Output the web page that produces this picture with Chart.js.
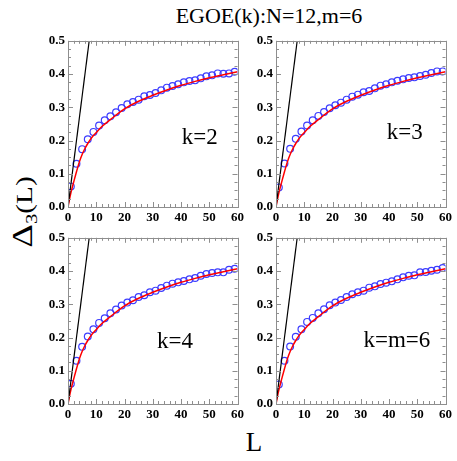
<!DOCTYPE html>
<html>
<head>
<meta charset="utf-8">
<script src="https://cdn.jsdelivr.net/npm/chart.js@4/dist/chart.umd.min.js"></script>
<style>
  html, body { margin: 0; padding: 0; background: #fff; }
  body { width: 457px; height: 461px; position: relative; overflow: hidden; font-family: "Liberation Serif", Tinos, "Times New Roman", Times, "Noto Serif", "DejaVu Serif", FreeSerif, serif; }
  .panel { position: absolute; width: 219px; height: 199px; }
  #title { position: absolute; left: 269px; top: 5px; transform: translateX(-50%); font-size: 22px; line-height: 1; white-space: nowrap; }
  #xlab { position: absolute; left: 254px; top: 429px; transform: translateX(-50%); font-size: 27px; line-height: 1; }
  #ylab { position: absolute; left: 22px; top: 212px; transform: translate(-50%, -50%) rotate(-90deg) scale(1.22, 1); font-size: 24px; line-height: 1; white-space: nowrap; }
  #ylab .d { font-size: 30px; }
  #ylab .s { font-size: 17px; position: relative; top: 5px; }
</style>
</head>
<body>
<div id="title">EGOE(k):N=12,m=6</div>
<div id="ylab"><span class="d">Δ</span><span class="s">3</span>(L)</div>
<div id="xlab">L</div>
<div class="panel" style="left:28px; top:30px;"><canvas id="c1"></canvas></div>
<div class="panel" style="left:236px; top:30px;"><canvas id="c2"></canvas></div>
<div class="panel" style="left:28px; top:227px;"><canvas id="c3"></canvas></div>
<div class="panel" style="left:236px; top:227px;"><canvas id="c4"></canvas></div>
<script>
// L values of the circles (odd L)
const circleL = [1, 3, 5, 7, 9, 11, 13, 15, 17, 19, 21, 23, 25, 27, 29, 31, 33, 35, 37, 39, 41, 43, 45, 47, 49, 51, 53, 55, 57, 59];

// EGOE data
const k2 = [0.062, 0.130, 0.174, 0.204, 0.226, 0.245, 0.261, 0.273, 0.285, 0.298, 0.309, 0.316, 0.323, 0.333, 0.337, 0.343, 0.351, 0.359, 0.364, 0.369, 0.375, 0.379, 0.381, 0.387, 0.393, 0.396, 0.402, 0.401, 0.402, 0.407];
const k3 = [0.059, 0.131, 0.175, 0.205, 0.227, 0.245, 0.261, 0.274, 0.286, 0.297, 0.306, 0.314, 0.323, 0.332, 0.338, 0.345, 0.349, 0.357, 0.365, 0.369, 0.375, 0.380, 0.384, 0.388, 0.390, 0.394, 0.398, 0.403, 0.408, 0.408];
const k4 = [0.061, 0.130, 0.172, 0.203, 0.225, 0.244, 0.258, 0.273, 0.284, 0.296, 0.305, 0.312, 0.322, 0.327, 0.336, 0.341, 0.349, 0.356, 0.362, 0.366, 0.370, 0.375, 0.379, 0.386, 0.391, 0.394, 0.396, 0.396, 0.404, 0.407];
const k6 = [0.059, 0.130, 0.173, 0.202, 0.225, 0.247, 0.259, 0.273, 0.285, 0.297, 0.305, 0.313, 0.322, 0.330, 0.336, 0.341, 0.350, 0.354, 0.361, 0.365, 0.369, 0.375, 0.381, 0.386, 0.387, 0.396, 0.397, 0.401, 0.404, 0.409];

// GOE curve (red)
const goeL = [0, 0.5, 1, 2, 3, 4, 5, 6, 7, 8, 9, 10, 12, 15, 20, 25, 30, 35, 40, 45, 50, 55, 60];
const goeV = [0, 0.022, 0.042, 0.075, 0.106, 0.135, 0.158, 0.176, 0.191, 0.204, 0.215, 0.224, 0.242, 0.263, 0.295, 0.318, 0.336, 0.352, 0.366, 0.378, 0.389, 0.398, 0.407];

// Poisson line (black), L/15
const poiL = [0, 7.5];
const poiV = [0, 0.5];

const panels = [
    { id: 'c1', data: k2, label: 'k=2', at: [46.6, 0.209] },
    { id: 'c2', data: k3, label: 'k=3', at: [45.6, 0.224] },
    { id: 'c3', data: k4, label: 'k=4', at: [37.9, 0.186] },
    { id: 'c4', data: k6, label: 'k=m=6', at: [42.8, 0.189] }
];

const serif = '"Liberation Serif", Tinos, "Times New Roman", Times, "Noto Serif", "DejaVu Serif", FreeSerif, serif';
const frameColor = '#8e8e8e';
const tickFont = { family: serif, size: 13, weight: 'bold' };

// box with inward ticks on all four sides
const framePlugin = {
    id: 'frame',
    afterDraw(chart) {
        const { ctx, chartArea: a, scales: { x, y } } = chart;
        ctx.save();
        ctx.strokeStyle = frameColor;
        ctx.lineWidth = 1;
        ctx.beginPath();
        for (let v = 0; v <= 60; v += 2) {
            const px = Math.round(x.getPixelForValue(v)) + 0.5;
            const len = v % 10 === 0 ? 5 : 3;
            ctx.moveTo(px, a.bottom); ctx.lineTo(px, a.bottom - len);
            ctx.moveTo(px, a.top); ctx.lineTo(px, a.top + len);
        }
        for (let i = 0; i <= 20; i++) {
            const py = Math.round(y.getPixelForValue(i * 0.025)) + 0.5;
            const len = i % 4 === 0 ? 5 : 3;
            ctx.moveTo(a.left, py); ctx.lineTo(a.left + len, py);
            ctx.moveTo(a.right, py); ctx.lineTo(a.right - len, py);
        }
        ctx.stroke();
        ctx.strokeRect(Math.round(a.left) + 0.5, Math.round(a.top) + 0.5, Math.round(a.width), Math.round(a.height));
        ctx.restore();
    }
};

const labelPlugin = {
    id: 'panelLabel',
    afterDatasetsDraw(chart, args, opts) {
        const { ctx, scales: { x, y } } = chart;
        ctx.save();
        ctx.font = '23px ' + serif;
        ctx.fillStyle = '#000';
        ctx.textAlign = 'center';
        ctx.textBaseline = 'middle';
        ctx.fillText(opts.text, x.getPixelForValue(opts.x), y.getPixelForValue(opts.y));
        ctx.restore();
    }
};

panels.forEach(p => {
    new Chart(document.getElementById(p.id), {
        type: 'scatter',
        data: {
            datasets: [
                {
                    label: 'poisson',
                    data: poiL.map((l, i) => ({ x: l, y: poiV[i] })),
                    showLine: true,
                    borderColor: '#000',
                    borderWidth: 1.2,
                    pointRadius: 0
                },
                {
                    label: 'goe',
                    data: goeL.map((l, i) => ({ x: l, y: goeV[i] })),
                    showLine: true,
                    borderColor: '#ff0000',
                    borderWidth: 1.5,
                    pointRadius: 0,
                    cubicInterpolationMode: 'monotone'
                },
                {
                    label: 'egoe',
                    data: circleL.map((l, i) => ({ x: l, y: p.data[i] })),
                    showLine: false,
                    borderColor: '#3c3cff',
                    backgroundColor: 'rgba(0,0,0,0)',
                    borderWidth: 1.2,
                    pointRadius: 3.4
                }
            ]
        },
        options: {
            responsive: true,
            maintainAspectRatio: false,
            animation: false,
            events: [],
            layout: { padding: { top: 8, right: 8, left: 0, bottom: 0 } },
            plugins: {
                legend: { display: false },
                tooltip: { enabled: false },
                panelLabel: { text: p.label, x: p.at[0], y: p.at[1] }
            },
            scales: {
                x: {
                    type: 'linear',
                    min: 0,
                    max: 60,
                    grid: { display: false, drawTicks: false },
                    border: { display: false },
                    ticks: { stepSize: 10, color: '#000', font: tickFont, padding: 3 },
                    afterFit: s => { s.height = 22; }
                },
                y: {
                    type: 'linear',
                    min: 0,
                    max: 0.5,
                    grid: { display: false, drawTicks: false },
                    border: { display: false },
                    ticks: { stepSize: 0.1, color: '#000', font: tickFont, padding: 3, callback: v => v.toFixed(1) },
                    afterFit: s => { s.width = 40; }
                }
            }
        },
        plugins: [framePlugin, labelPlugin]
    });
});
</script>
</body>
</html>
